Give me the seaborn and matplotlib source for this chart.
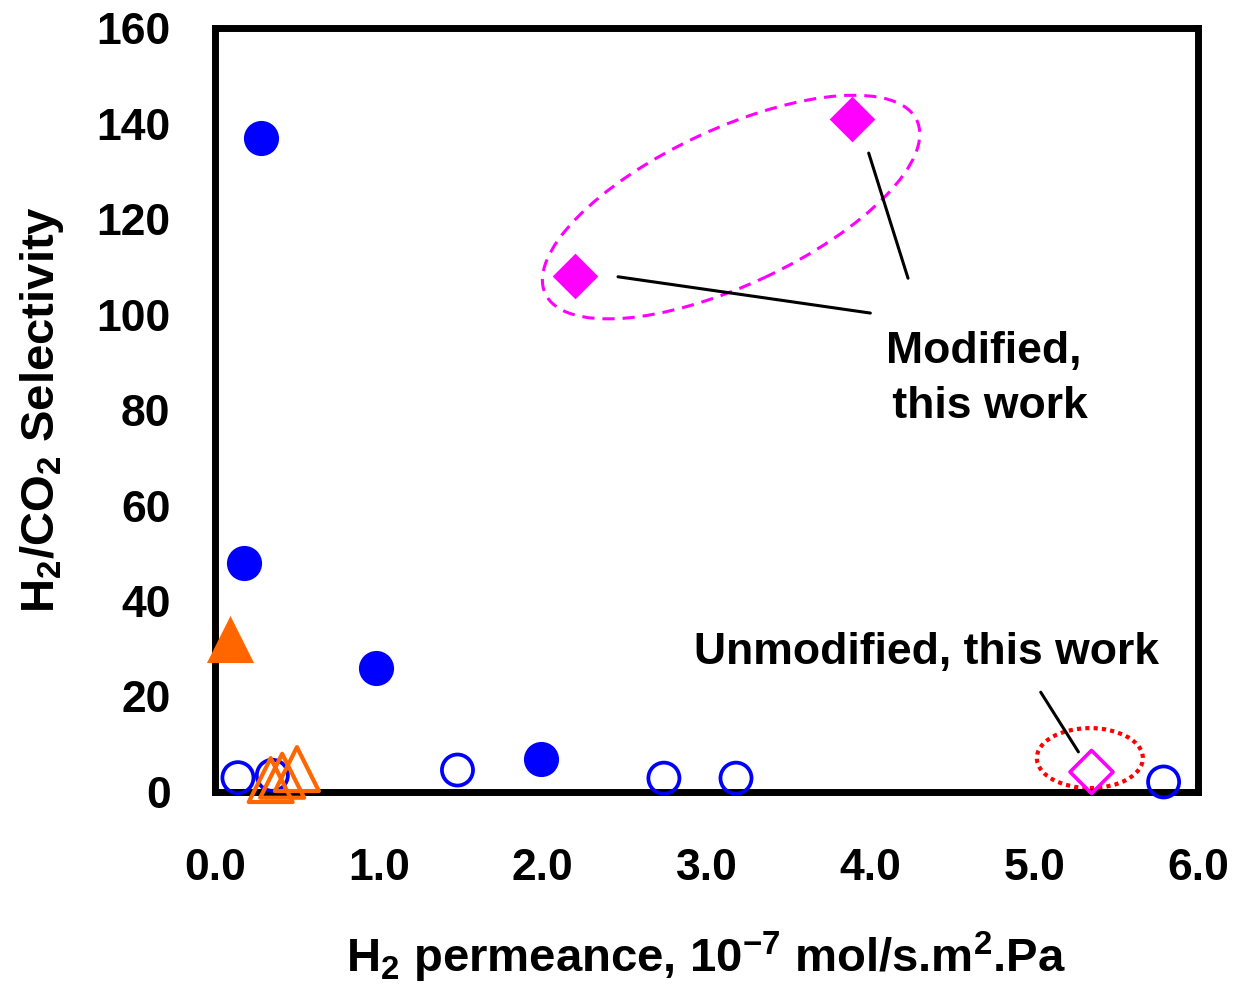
#!/usr/bin/env python3
"""
H2/CO2 selectivity vs H2 permeance scatter
"""

import numpy as np
import pandas as pd
import seaborn as sns
import matplotlib.pyplot as plt
from matplotlib.patches import Ellipse
from matplotlib.transforms import ScaledTranslation

# literature, filled circles
lit_filled_x = [0.28, 0.18, 0.98, 1.99]
lit_filled_y = [137, 48, 26, 7]
# literature, open circles
lit_open_x = [0.14, 0.35, 1.48, 2.74, 3.18, 5.79]
lit_open_y = [3.0, 3.5, 4.6, 2.9, 2.9, 2.1]
# literature, filled triangle
tri_filled_x = [0.09]
tri_filled_y = [32]
# literature, open triangles
tri_open_x = [0.34, 0.41, 0.50]
tri_open_y = [2.5, 3.4, 4.8]
# this work
mod_x = [2.20, 3.89]
mod_y = [108, 141]
unmod_x = [5.35]
unmod_y = [4.2]

x_ticks = [0, 1, 2, 3, 4, 5, 6]
x_tick_labels = ['0.0', '1.0', '2.0', '3.0', '4.0', '5.0', '6.0']
y_ticks = [0, 20, 40, 60, 80, 100, 120, 140, 160]

BLUE = '#0000FF'
ORANGE = '#FF6600'
MAGENTA = '#FF00FF'
RED = '#FF0000'


def main():
    sns.set_style('white')
    plt.rcParams['font.family'] = ['Liberation Sans', 'DejaVu Sans']
    plt.rcParams['font.weight'] = 'bold'
    plt.rcParams['text.color'] = 'black'
    plt.rcParams['axes.labelcolor'] = 'black'
    plt.rcParams['xtick.color'] = 'black'
    plt.rcParams['ytick.color'] = 'black'
    plt.rcParams['mathtext.fontset'] = 'custom'
    plt.rcParams['mathtext.bf'] = 'Liberation Sans:bold'
    plt.rcParams['mathtext.rm'] = 'Liberation Sans:bold'
    plt.rcParams['mathtext.default'] = 'bf'

    fig = plt.figure(figsize=(12.36, 9.89), dpi=100)
    ax = fig.add_axes([215 / 1236, 1 - 792 / 989, (1198 - 215) / 1236, (792 - 28) / 989])

    kw = dict(ax=ax, zorder=5, clip_on=False)
    sns.scatterplot(x=lit_filled_x, y=lit_filled_y, marker='o', s=640,
                    color=BLUE, linewidth=0, **kw)
    sns.scatterplot(x=lit_open_x, y=lit_open_y, marker='o', s=500,
                    facecolor='none', edgecolor=BLUE, linewidth=2.7, **kw)
    sns.scatterplot(x=tri_filled_x, y=tri_filled_y, marker='^', s=1150,
                    color=ORANGE, linewidth=0, **kw)
    sns.scatterplot(x=tri_open_x, y=tri_open_y, marker='^', s=1000,
                    facecolor='none', edgecolor=ORANGE, linewidth=3, **kw)
    sns.scatterplot(x=mod_x, y=mod_y, marker='D', s=540,
                    color=MAGENTA, linewidth=0, **kw)
    sns.scatterplot(x=unmod_x, y=unmod_y, marker='D', s=480,
                    facecolor='none', edgecolor=MAGENTA, linewidth=2.6, **kw)

    ax.set_xlim(0, 6)
    ax.set_ylim(0, 160)
    ax.set_xticks(x_ticks)
    ax.set_xticklabels(x_tick_labels)
    ax.set_yticks(y_ticks)

    for sp in ax.spines.values():
        sp.set_linewidth(5)
        sp.set_color('black')
        sp.set_zorder(4)
    ax.tick_params(axis='both', direction='out', length=12, width=0.8,
                   color='#333333', labelcolor='black', labelsize=32)
    ax.tick_params(axis='x', pad=28)
    ax.tick_params(axis='y', pad=20)
    for lab in ax.get_xticklabels() + ax.get_yticklabels():
        lab.set_fontweight('bold')

    ax.set_xlabel(r'H$_2$ permeance, 10$^{-7}$ mol/s.m$^2$.Pa',
                  fontsize=34, fontweight='bold', labelpad=30)
    ax.set_ylabel(r'H$_2$/CO$_2$ Selectivity', fontsize=34,
                  fontweight='bold', labelpad=22)

    # dashed ellipse around modified points
    trans = fig.dpi_scale_trans + ScaledTranslation(3.15, 122.5, ax.transData)
    ax.add_patch(Ellipse((0, 0), 4.1, 1.56, angle=25, transform=trans,
                         fill=False, edgecolor=MAGENTA, linewidth=2.2,
                         linestyle=(0, (4, 2.6)), zorder=2))
    # dotted ellipse around unmodified point
    trans2 = fig.dpi_scale_trans + ScaledTranslation(5.34, 7.1, ax.transData)
    ax.add_patch(Ellipse((0, 0), 1.06, 0.6, angle=0, transform=trans2,
                         fill=False, edgecolor=RED, linewidth=3,
                         linestyle=(0, (1, 1)), zorder=2))

    # pointer lines
    ax.plot([2.46, 4.00], [107.9, 100.3], color='black', lw=2.2, zorder=2)
    ax.plot([3.99, 4.23], [133.8, 107.6], color='black', lw=2.2, zorder=2)
    ax.plot([5.04, 5.27], [20.9, 8.4], color='black', lw=2.2, zorder=2)

    ax.text(4.69, 86.5, 'Modified,\n this work', ha='center', va='center',
            fontsize=32, fontweight='bold', linespacing=1.45)
    ax.text(4.34, 29.3, 'Unmodified, this work', ha='center', va='center',
            fontsize=32, fontweight='bold')

    fig.savefig('out.png', dpi=100)


if __name__ == "__main__":
    main()
